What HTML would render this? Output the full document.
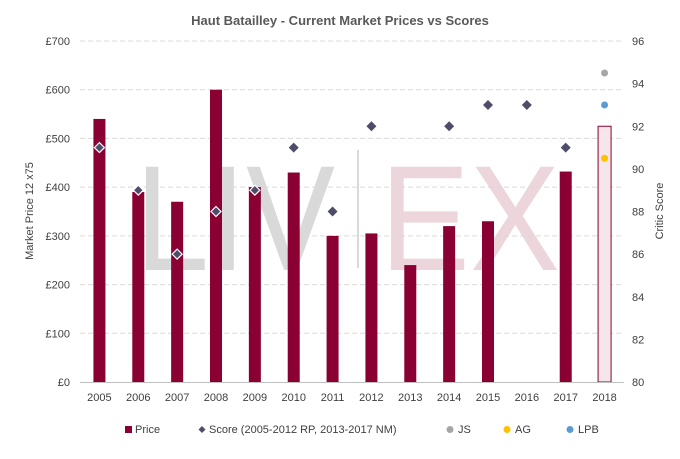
<!DOCTYPE html>
<html><head><meta charset="utf-8"><style>
body{margin:0;background:#fff;font-family:"Liberation Sans",sans-serif;}
svg text{font-family:"Liberation Sans",sans-serif;}
</style></head><body>
<svg id="chart" width="680" height="454" viewBox="0 0 680 454">
<text x="340" y="25" text-anchor="middle" font-size="13" font-weight="bold" fill="#595959">Haut Batailley - Current Market Prices vs Scores</text>
<g>
<text x="135" y="270" font-family="Liberation Serif" font-size="150" fill="#d9d9d9" textLength="200" lengthAdjust="spacingAndGlyphs">LIV</text>
<rect x="357" y="150" width="2" height="118" fill="#d9d9d9"/>
<text x="380" y="270" font-family="Liberation Serif" font-size="150" fill="#ecd5db" textLength="180" lengthAdjust="spacingAndGlyphs">EX</text>
</g>
<g id="grid"></g><g id="bars"></g><g id="marks"></g><g id="axes"></g>
<text transform="translate(33,211) rotate(-90)" text-anchor="middle" font-size="11" fill="#404040">Market Price 12 x75</text>
<text transform="translate(663,211) rotate(-90)" text-anchor="middle" font-size="11" fill="#404040">Critic Score</text>
<g font-size="11" fill="#404040">
<g><rect x="125" y="426" width="7" height="7" fill="#8a0033"/><text x="135" y="433">Price</text></g>
<g><path d="M202,426 l3.5,3.5 -3.5,3.5 -3.5,-3.5z" fill="#4d4d6b"/><text x="209" y="433">Score (2005-2012 RP, 2013-2017 NM)</text></g>
<g><circle cx="450" cy="429.5" r="3.5" fill="#a6a6a6"/><text x="458" y="433">JS</text></g>
<g><circle cx="507" cy="429.5" r="3.5" fill="#ffc000"/><text x="515" y="433">AG</text></g>
<g><circle cx="570" cy="429.5" r="3.5" fill="#5b9bd5"/><text x="578" y="433">LPB</text></g>
</g>
</svg>
<script>
const years=["2005","2006","2007","2008","2009","2010","2011","2012","2013","2014","2015","2016","2017","2018"];
const prices=[540,390,370,600,400,430,300,305,240,320,330,null,432,null];
const scores=[91,89,86,88,89,91,88,92,null,92,93,93,91,null];
const estimatePrice=[null,null,null,null,null,null,null,null,null,null,null,null,null,525];
const priceTicks=[0,100,200,300,400,500,600,700];
const scoreTicks=[80,82,84,86,88,90,92,94,96];
const jsScore=94.5, agScore=90.5, lpbScore=93;
const NS="http://www.w3.org/2000/svg";
const L=80,R=624,T=41,B=382;
const step=(R-L)/years.length;
const xC=i=>L+step*(i+0.5);
const yP=v=>B-(v/700)*(B-T);
const yS=v=>B-((v-80)/16)*(B-T);
function mk(tag,attrs,parent){const e=document.createElementNS(NS,tag);for(const k in attrs)e.setAttribute(k,attrs[k]);document.getElementById(parent).appendChild(e);return e;}
priceTicks.forEach(t=>{
 if(t>0){const g=mk('line',{x1:L,x2:R,y1:yP(t),y2:yP(t),stroke:'#d9d9d9','stroke-dasharray':'5,3'},'grid');
 
 }
 const tx=mk('text',{x:70,y:yP(t)+4,'text-anchor':'end','font-size':11,fill:'#404040'},'axes');tx.textContent='£'+t;
 
 
});
scoreTicks.forEach(t=>{const tx=mk('text',{x:632,y:yS(t)+4,'font-size':11,fill:'#404040'},'axes');tx.textContent=t;
 
 });
const ax=mk('line',{x1:L,x2:R,y1:B+0.5,y2:B+0.5,stroke:'#bfbfbf'},'axes');


years.forEach((y,i)=>{const tx=mk('text',{x:xC(i),y:401,'text-anchor':'middle','font-size':11,fill:'#404040'},'axes');tx.textContent=y;
 
 
 if(prices[i]!=null){const b=mk('rect',{x:xC(i)-6,y:yP(prices[i]),width:12,height:B-yP(prices[i]),fill:'#8a0033'},'bars');
 
 }
 if(estimatePrice[i]!=null){const b=mk('rect',{x:xC(i)-6.5,y:yP(estimatePrice[i]),width:13,height:B-yP(estimatePrice[i]),fill:'#f5e6eb',stroke:'#8a0033','stroke-width':1},'bars');
 
 }
 if(scores[i]!=null){const cx=xC(i),cy=yS(scores[i]);
 const onBar=prices[i]!=null&&yP(prices[i])<cy+4;
 const d=mk('path',{d:`M${cx},${cy-5} L${cx+5},${cy} L${cx},${cy+5} L${cx-5},${cy}Z`,fill:'#4d4d6b',stroke:onBar?'#fff':'none','stroke-width':1.2},'marks');
 
 }
});
const i18=years.length-1;
[[jsScore,'#a6a6a6','js-score'],[lpbScore,'#5b9bd5','lpb-score'],[agScore,'#ffc000','ag-score']].forEach(([v,c,n])=>{
 const p=mk('circle',{cx:xC(i18),cy:yS(v),r:3.5,fill:c},'marks');
 
 
});
</script>
</body></html>
